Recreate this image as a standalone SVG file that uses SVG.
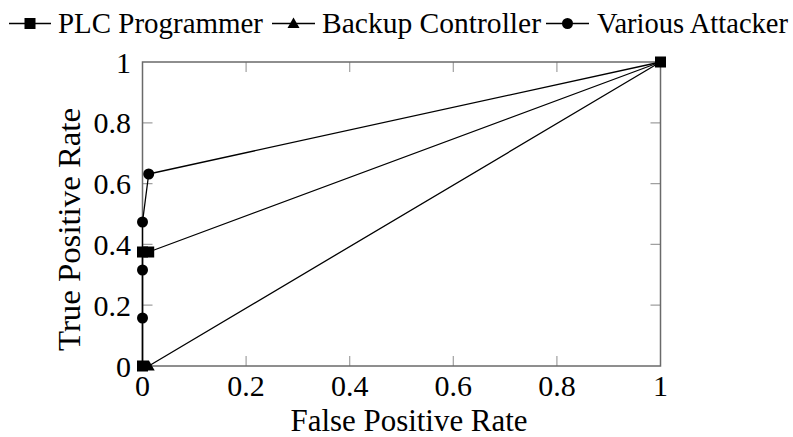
<svg xmlns="http://www.w3.org/2000/svg" width="793" height="437" viewBox="0 0 793 437">
<style>
text{font-family:"Liberation Serif","Times New Roman",serif;font-size:30px;fill:#000}
.leg{font-size:29px}
.ttl{font-size:31.5px}
.tick{stroke:#a0a0a0;stroke-width:1.2;fill:none}
.axis{stroke:#6a6a6a;stroke-width:1.5;fill:none}
.ser{stroke:#000;stroke-width:1.3;fill:none;stroke-linejoin:round}
.yl{text-anchor:end}
.xl{text-anchor:middle}
</style>
<defs>
<rect id="sq" x="-5.5" y="-5.5" width="11" height="11" fill="#000"/>
<path id="tri" d="M0,-6 L6,4.5 L-6,4.5 Z" fill="#000"/>
<circle id="cir" r="5.5" fill="#000"/>
</defs>
<rect width="793" height="437" fill="#fff"/>
<g id="legend">
<line class="ser" x1="9" y1="23.5" x2="51" y2="23.5"/><use href="#sq" x="30" y="23.5"/>
<text class="leg" x="58" y="33" textLength="205" lengthAdjust="spacingAndGlyphs">PLC Programmer</text>
<line class="ser" x1="272" y1="23.5" x2="315" y2="23.5"/><use href="#tri" x="293.5" y="23.5"/>
<text class="leg" x="322" y="33" textLength="219" lengthAdjust="spacingAndGlyphs">Backup Controller</text>
<line class="ser" x1="546" y1="23.5" x2="589" y2="23.5"/><use href="#cir" x="567.5" y="23.5"/>
<text class="leg" x="597" y="33" textLength="191" lengthAdjust="spacingAndGlyphs">Various Attacker</text>
</g>
<g id="axes">
<g class="tick">
<path d="M246.1,366v-10M349.7,366v-10M453.3,366v-10M556.9,366v-10M246.1,62v10M349.7,62v10M453.3,62v10M556.9,62v10"/>
<path d="M142.5,305.2h10M142.5,244.4h10M142.5,183.6h10M142.5,122.8h10M660.5,305.2h-10M660.5,244.4h-10M660.5,183.6h-10M660.5,122.8h-10"/>
</g>
<rect class="axis" x="142.5" y="62" width="518" height="304"/>
<text class="xl" x="142.5" y="396">0</text>
<text class="xl" x="246.1" y="396">0.2</text>
<text class="xl" x="349.7" y="396">0.4</text>
<text class="xl" x="453.3" y="396">0.6</text>
<text class="xl" x="556.9" y="396">0.8</text>
<text class="xl" x="660.5" y="396">1</text>
<text class="yl" x="131" y="376.5">0</text>
<text class="yl" x="131" y="315.7">0.2</text>
<text class="yl" x="131" y="254.9">0.4</text>
<text class="yl" x="131" y="194.1">0.6</text>
<text class="yl" x="131" y="133.3">0.8</text>
<text class="yl" x="131" y="72.5">1</text>
<text class="ttl" x="290.5" y="431" textLength="237" lengthAdjust="spacingAndGlyphs">False Positive Rate</text>
<text class="ttl" x="0" y="0" textLength="243" lengthAdjust="spacingAndGlyphs" transform="translate(80,351) rotate(-90)">True Positive Rate</text>
</g>
<g id="connectors">
<polyline id="plc-line" class="ser" points="142.5,366 142.5,252 148.7,252 660.5,62"/>
<polyline id="backup-line" class="ser" points="142.5,366 148.7,366 660.5,62"/>
<polyline id="attacker-line" class="ser" points="142.5,366 142.5,318 142.5,270 142.5,222 148.7,174 660.5,62"/>
</g>
<g id="plc-markers">
<use href="#sq" x="142.5" y="366"/><use href="#sq" x="142.5" y="252"/><use href="#sq" x="148.7" y="252"/><use href="#sq" x="660.5" y="62"/>
</g>
<g id="backup-markers">
<use href="#tri" x="148.7" y="366"/>
</g>
<g id="attacker-markers">
<use href="#cir" x="142.5" y="318"/><use href="#cir" x="142.5" y="270"/><use href="#cir" x="142.5" y="222"/><use href="#cir" x="148.7" y="174"/>
</g>
</svg>
